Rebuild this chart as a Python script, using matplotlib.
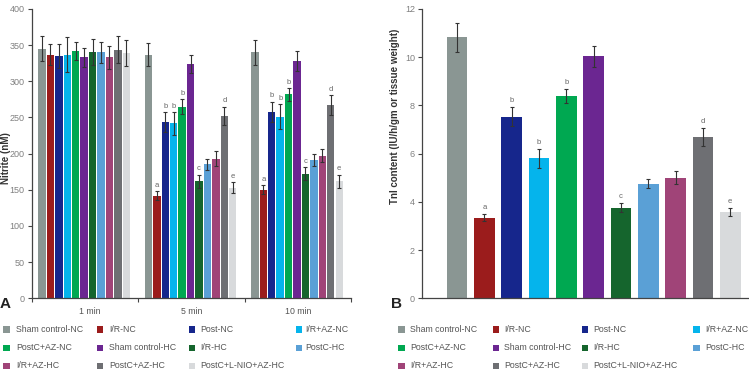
import matplotlib
matplotlib.use("Agg")
import matplotlib.pyplot as plt
import numpy as np
from matplotlib.patches import Rectangle

plt.rcParams['font.family'] = ['Liberation Sans', 'DejaVu Sans']

groups = ["Sham control-NC", "I/R-NC", "Post-NC", "I/R+AZ-NC", "PostC+AZ-NC",
          "Sham control-HC", "I/R-HC", "PostC-HC", "I/R+AZ-HC", "PostC+AZ-HC",
          "PostC+L-NIO+AZ-HC"]
colors = ["#8a9693", "#9b1c1c", "#16268c", "#05b4ec", "#00a851", "#6b2691",
          "#15652d", "#5aa0d6", "#a04478", "#6e6f73", "#d8dadc"]

times = ["1 min", "5 min", "10 min"]
nitrite_1 = [345, 337, 335, 337, 342, 333, 340, 340, 333, 344, 339]
nitrite_1_err = [17, 14, 17, 24, 13, 13, 18, 14, 16, 18, 18]
nitrite_5 = [337, 142, 244, 242, 265, 324, 162, 185, 193, 252, 153]
nitrite_5_err = [16, 6, 14, 16, 10, 13, 9, 7, 10, 13, 8]
nitrite_10 = [340, 150, 258, 251, 282, 328, 172, 191, 197, 267, 162]
nitrite_10_err = [17, 6, 14, 17, 9, 14, 9, 8, 9, 14, 9]
nitrite_letters = ["", "a", "b", "b", "b", "", "c", "", "", "d", "e"]

tni = [10.82, 3.35, 7.54, 5.80, 8.40, 10.03, 3.76, 4.76, 5.01, 6.69, 3.57]
tni_err = [0.6, 0.14, 0.4, 0.4, 0.3, 0.45, 0.19, 0.2, 0.28, 0.37, 0.17]
tni_letters = ["", "a", "b", "b", "b", "", "c", "", "", "d", "e"]

W, H = 749, 376
fig = plt.figure(figsize=(W / 100, H / 100), dpi=100)

def fx(px):
    return px / W

def fy(py):
    return 1 - py / H

axis_col = "#444444"
tick_col = "#808080"
err_col = "#333333"

# ---------- Panel A ----------
axA = fig.add_axes([fx(31.7), fy(298.3), fx(351 - 31.7), fy(9) - fy(298.3)])
nit = [nitrite_1, nitrite_5, nitrite_10]
nit_err = [nitrite_1_err, nitrite_5_err, nitrite_10_err]
slot = 8.43 / 106.4
first = 10.3 / 106.4
for g in range(3):
    xs = g - 0.5 + first + slot * np.arange(len(groups))
    axA.bar(xs, nit[g], width=slot * 0.87, color=colors, zorder=2)
    axA.errorbar(xs, nit[g], yerr=nit_err[g], fmt="none", ecolor=err_col,
                 elinewidth=0.8, capsize=1.2, capthick=0.8, zorder=3)
    if g > 0:
        for i, lab in enumerate(nitrite_letters):
            if lab:
                axA.text(xs[i], nit[g][i] + nit_err[g][i] + 3, lab, ha="center",
                         va="bottom", fontsize=5.5, color="#666666")
axA.set_xlim(-0.5, 2.5)
axA.set_ylim(0, 400)
axA.set_yticks(np.arange(0, 401, 50))
axA.set_xticks([-0.5, 0.5, 1.5, 2.5])
axA.set_xticklabels([])
axA.set_xticks([0.05, 1, 2], minor=True)
axA.set_xticklabels(times, minor=True)
axA.tick_params(axis="x", which="minor", length=0, labelsize=6.3, labelcolor="#555555", pad=6)
axA.tick_params(axis="x", which="major", length=3, width=0.8, color=axis_col, direction="out")
axA.tick_params(axis="y", length=3, width=0.8, color=axis_col, labelsize=6.5, labelcolor=tick_col, pad=2)
for s in ["top", "right"]:
    axA.spines[s].set_visible(False)
for s in ["left", "bottom"]:
    axA.spines[s].set_color(axis_col)
    axA.spines[s].set_linewidth(0.9)
fig.text(fx(6), fy(158), "Nitrite (nM)", rotation=90, ha="center", va="center",
         fontsize=7, fontweight="bold", color="#333333")
fig.text(fx(0), fy(304), "A", ha="left", va="center", fontsize=11, fontweight="bold", color="#222222")

# ---------- Panel B ----------
axB = fig.add_axes([fx(422), fy(298.3), fx(748 - 422), fy(9) - fy(298.3)])
xb = np.arange(len(groups))
axB.bar(xb, tni, width=0.76, color=colors, zorder=2)
axB.errorbar(xb, tni, yerr=tni_err, fmt="none", ecolor=err_col,
             elinewidth=0.8, capsize=1.3, capthick=0.8, zorder=3)
for i, lab in enumerate(tni_letters):
    if lab:
        axB.text(xb[i], tni[i] + tni_err[i] + 0.12, lab, ha="center", va="bottom",
                 fontsize=5.5, color="#666666")
axB.set_xlim(-1.28, 10.65)
axB.set_ylim(0, 12)
axB.set_yticks(np.arange(0, 13, 2))
axB.set_xticks([])
axB.tick_params(axis="y", length=3, width=0.8, color=axis_col, labelsize=6.5, labelcolor=tick_col, pad=2)
for s in ["top", "right"]:
    axB.spines[s].set_visible(False)
for s in ["left", "bottom"]:
    axB.spines[s].set_color(axis_col)
    axB.spines[s].set_linewidth(0.9)
fig.text(fx(395), fy(116), "TnI content (IU/h/gm or tissue weight)", rotation=90,
         ha="center", va="center", fontsize=7, fontweight="bold", color="#333333")
fig.text(fx(391), fy(304), "B", ha="left", va="center", fontsize=11, fontweight="bold", color="#222222")

# ---------- Legends ----------
def draw_legend(marker_x, text_x, rows_y):
    for k, (name, col) in enumerate(zip(groups, colors)):
        r, c = divmod(k, 4)
        mx, ty = marker_x[c], rows_y[r]
        fig.patches.append(Rectangle((fx(mx), fy(ty + 3.3)), fx(6.7), fy(0) - fy(6.7),
                                     transform=fig.transFigure, facecolor=col,
                                     edgecolor="none"))
        fig.text(fx(text_x[c]), fy(ty), name, ha="left", va="center",
                 fontsize=6.3, color="#555555")

rows = [329.7, 348, 366]
draw_legend([3.3, 96.7, 188.7, 295.7], [16, 109, 200, 305], rows)
draw_legend([398.3, 492.7, 581.7, 693.3], [410, 504, 593, 705], rows)

fig.savefig("out.png", dpi=100)
